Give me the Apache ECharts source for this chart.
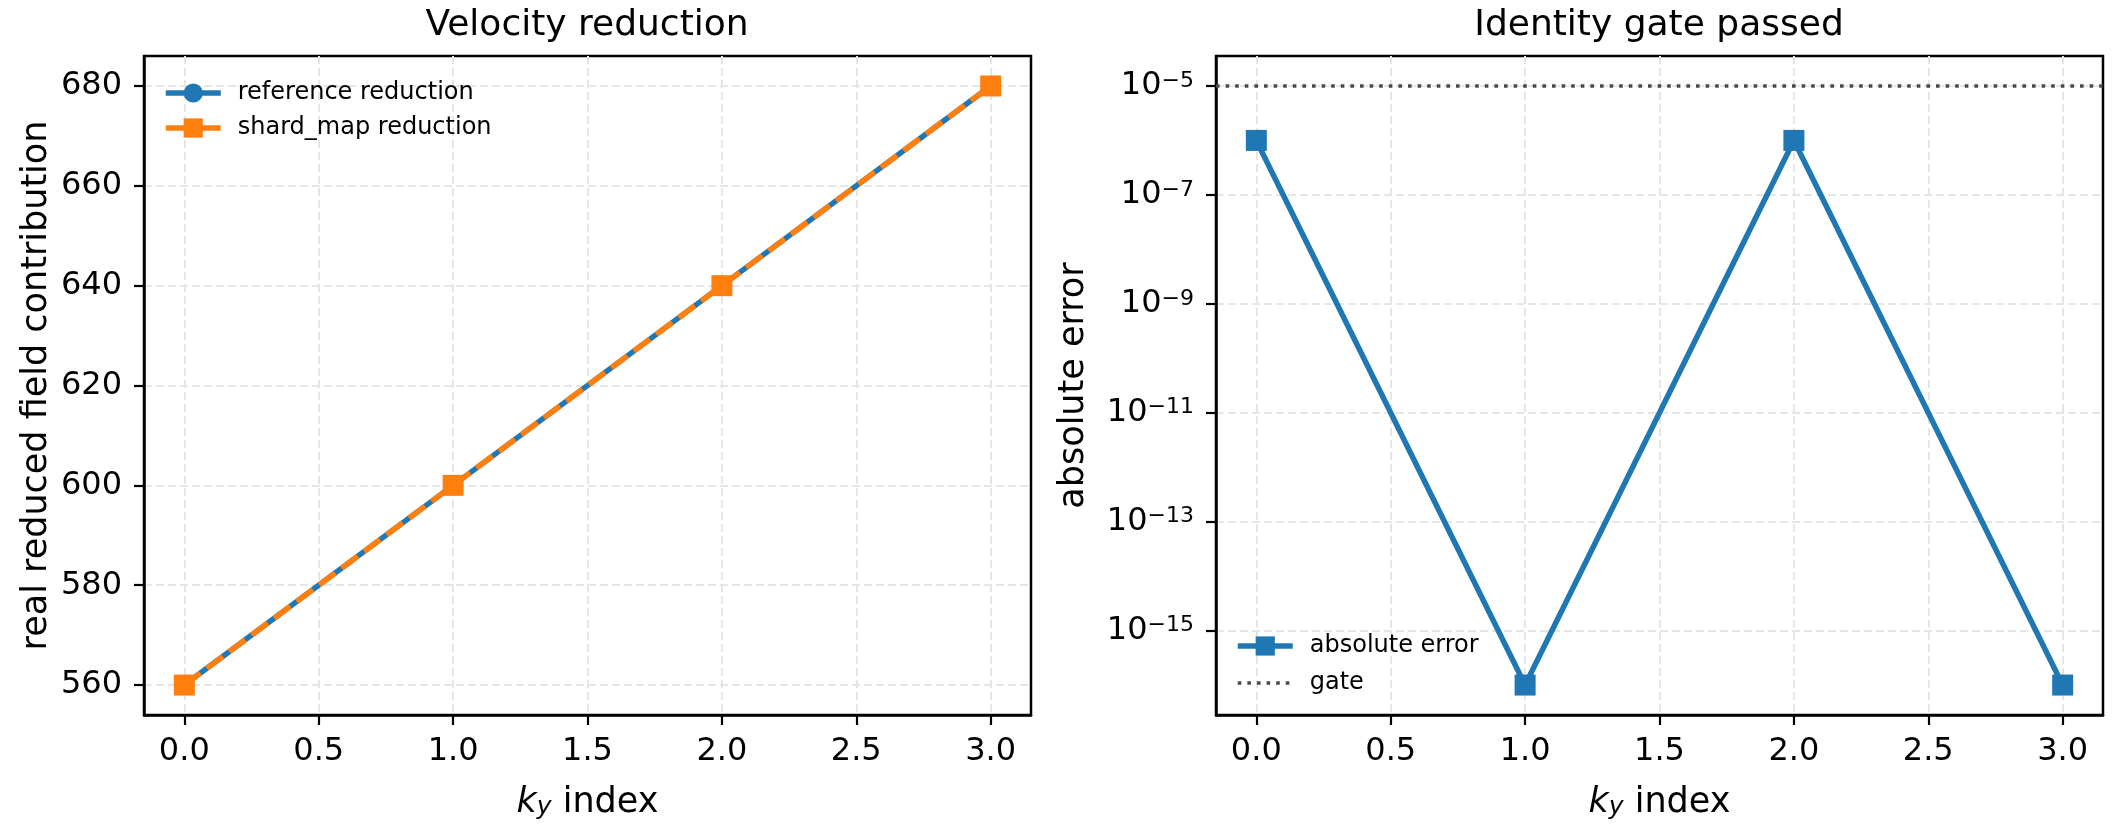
<!DOCTYPE html>
<html><head><meta charset="utf-8">
<script src="https://cdn.jsdelivr.net/npm/echarts@6/dist/echarts.min.js"></script>
<style>html,body{margin:0;padding:0;background:#fff}#c{width:2112px;height:836px}</style>
</head><body><div id="c"></div>
<script>
// ---- data ----
const kyIndex = [0, 1, 2, 3];
const referenceReduction = [560, 600, 640, 680];
const shardMapReduction = [560, 600, 640, 680];
const absoluteError = [1e-6, 1e-16, 1e-6, 1e-16];
const gateValue = 1e-5;
const xTicks = [0, 0.5, 1.0, 1.5, 2.0, 2.5, 3.0];
const leftYTicks = [560, 580, 600, 620, 640, 660, 680];
const rightYTicks = [1e-15, 1e-13, 1e-11, 1e-9, 1e-7, 1e-5];
const xRange = [-0.15, 3.15];
const leftYRange = [554, 686];
const rightYRange = [Math.pow(10, -16.55), Math.pow(10, -4.45)];
const titles = ['Velocity reduction', 'Identity gate passed'];
const seriesNames = ['reference reduction', 'shard_map reduction', 'absolute error', 'gate'];
const yNames = ['real reduced field contribution', 'absolute error'];

// ---- styles ----
const FONT = 'DejaVu Sans';
const BLUE = '#1f77b4', ORANGE = '#ff7f0e', GATE = '#4a4a4a';
const TICK_FS = 32, LABEL_FS = 35, TITLE_FS = 36, LEGEND_FS = 24;
const LW = 5.5;
const gridStyle = {show: true, lineStyle: {color: '#e6e6e6', width: 2, type: [8, 4]}};
const tickStyle = {show: true, inside: false, length: 10, lineStyle: {color: '#000', width: 2.2}};
const axisLineStyle = {show: true, onZero: false, lineStyle: {color: '#000', width: 2.5}};

function pair(a, b){ return a.map((v, i) => [v, b[i]]); }

const xName = '{i|k}{sub|y}{n| index}';
const xNameStyle = {
  fontFamily: FONT, fontSize: LABEL_FS, color: '#000', lineHeight: 44,
  rich: {
    i: {fontFamily: FONT, fontSize: LABEL_FS, fontStyle: 'italic', color: '#000', lineHeight: 35, verticalAlign: 'top'},
    n: {fontFamily: FONT, fontSize: LABEL_FS, color: '#000', lineHeight: 35, verticalAlign: 'top'},
    sub: {fontFamily: FONT, fontSize: 25, fontStyle: 'italic', color: '#000', lineHeight: 25, verticalAlign: 'bottom'}
  }
};

function xAxis(gi){
  return {
    type: 'value', gridIndex: gi, min: xRange[0], max: xRange[1],
    name: xName, nameLocation: 'middle', nameGap: 70, nameTextStyle: xNameStyle,
    axisLine: axisLineStyle,
    axisTick: Object.assign({customValues: xTicks}, tickStyle),
    axisLabel: {customValues: xTicks, margin: 21, fontFamily: FONT, fontSize: TICK_FS, color: '#000',
      formatter: v => v.toFixed(1)},
    splitLine: gridStyle
  };
}

const legendText = {fontFamily: FONT, fontSize: LEGEND_FS, color: '#000', lineHeight: 24, padding: [0, 0, 0, 12]};

const option = {
  animation: false,
  backgroundColor: '#fff',
  title: [
    {text: titles[0], left: 587, top: 8, textAlign: 'center', padding: 0,
     textStyle: {fontFamily: FONT, fontSize: TITLE_FS, fontWeight: 'normal', color: '#000'}},
    {text: titles[1], left: 1659, top: 8, textAlign: 'center', padding: 0,
     textStyle: {fontFamily: FONT, fontSize: TITLE_FS, fontWeight: 'normal', color: '#000'}}
  ],
  grid: [
    {left: 144, top: 56, width: 887, height: 659, show: true, borderColor: '#000', borderWidth: 2.5, backgroundColor: 'transparent', containLabel: false, outerBoundsMode: 'none'},
    {left: 1216, top: 56, width: 887, height: 659, show: true, borderColor: '#000', borderWidth: 2.5, backgroundColor: 'transparent', containLabel: false, outerBoundsMode: 'none'}
  ],
  xAxis: [xAxis(0), xAxis(1)],
  yAxis: [
    {type: 'value', gridIndex: 0, min: leftYRange[0], max: leftYRange[1],
     name: yNames[0], nameLocation: 'middle', nameRotate: 90, nameGap: 90,
     nameTextStyle: {fontFamily: FONT, fontSize: LABEL_FS, color: '#000'},
     axisLine: axisLineStyle,
     axisTick: Object.assign({customValues: leftYTicks}, tickStyle),
     axisLabel: {customValues: leftYTicks, margin: 22, fontFamily: FONT, fontSize: TICK_FS, color: '#000'},
     splitLine: gridStyle},
    {type: 'log', logBase: 10, gridIndex: 1, min: rightYRange[0], max: rightYRange[1],
     name: yNames[1], nameLocation: 'middle', nameRotate: 90, nameGap: 125,
     nameTextStyle: {fontFamily: FONT, fontSize: LABEL_FS, color: '#000'},
     axisLine: axisLineStyle,
     axisTick: Object.assign({customValues: rightYTicks}, tickStyle),
     axisLabel: {customValues: rightYTicks, margin: 22, fontFamily: FONT, fontSize: TICK_FS, color: '#000',
       lineHeight: 40,
       formatter: v => '{b|10}{s|\u2212' + (-Math.round(Math.log10(v))) + '}',
       rich: {
         b: {fontFamily: FONT, fontSize: TICK_FS, color: '#000', lineHeight: 32, verticalAlign: 'bottom'},
         s: {fontFamily: FONT, fontSize: 22, color: '#000', lineHeight: 22, verticalAlign: 'top'}
       }},
     splitLine: gridStyle}
  ],
  legend: [
    {orient: 'vertical', left: 163, top: 81, padding: 0, itemGap: 11, itemWidth: 55, itemHeight: 24,
     textStyle: legendText, selectedMode: false,
     lineStyle: {width: LW},
     data: [{name: seriesNames[0]}, {name: seriesNames[1], lineStyle: {type: 'solid', width: LW}}]},
    {orient: 'vertical', left: 1235, top: 634, padding: 0, itemGap: 13, itemWidth: 55, itemHeight: 24,
     textStyle: legendText, selectedMode: false,
     lineStyle: {width: LW},
     data: [{name: seriesNames[2]}, {name: seriesNames[3], lineStyle: {width: 3.6}, itemStyle: {opacity: 0}}]}
  ],
  series: [
    {name: seriesNames[0], type: 'line', xAxisIndex: 0, yAxisIndex: 0,
     data: pair(kyIndex, referenceReduction),
     symbol: 'circle', symbolSize: 20, showSymbol: true,
     lineStyle: {color: BLUE, width: LW}, itemStyle: {color: BLUE}},
    {name: seriesNames[1], type: 'line', xAxisIndex: 0, yAxisIndex: 0,
     data: pair(kyIndex, shardMapReduction),
     symbol: 'rect', symbolSize: 21, showSymbol: true,
     lineStyle: {color: ORANGE, width: LW, type: [20, 8]}, itemStyle: {color: ORANGE}},
    {name: seriesNames[2], type: 'line', xAxisIndex: 1, yAxisIndex: 1,
     data: pair(kyIndex, absoluteError),
     symbol: 'rect', symbolSize: 21, showSymbol: true,
     lineStyle: {color: BLUE, width: LW}, itemStyle: {color: BLUE}},
    {name: seriesNames[3], type: 'line', xAxisIndex: 1, yAxisIndex: 1,
     data: [[xRange[0], gateValue], [xRange[1], gateValue]],
     symbol: 'none', showSymbol: false,
     lineStyle: {color: GATE, width: 3.6, type: [3.6, 6]}, itemStyle: {color: GATE}}
  ]
};

echarts.init(document.getElementById('c'), null, {renderer: 'canvas'}).setOption(option);
</script>
</body></html>
